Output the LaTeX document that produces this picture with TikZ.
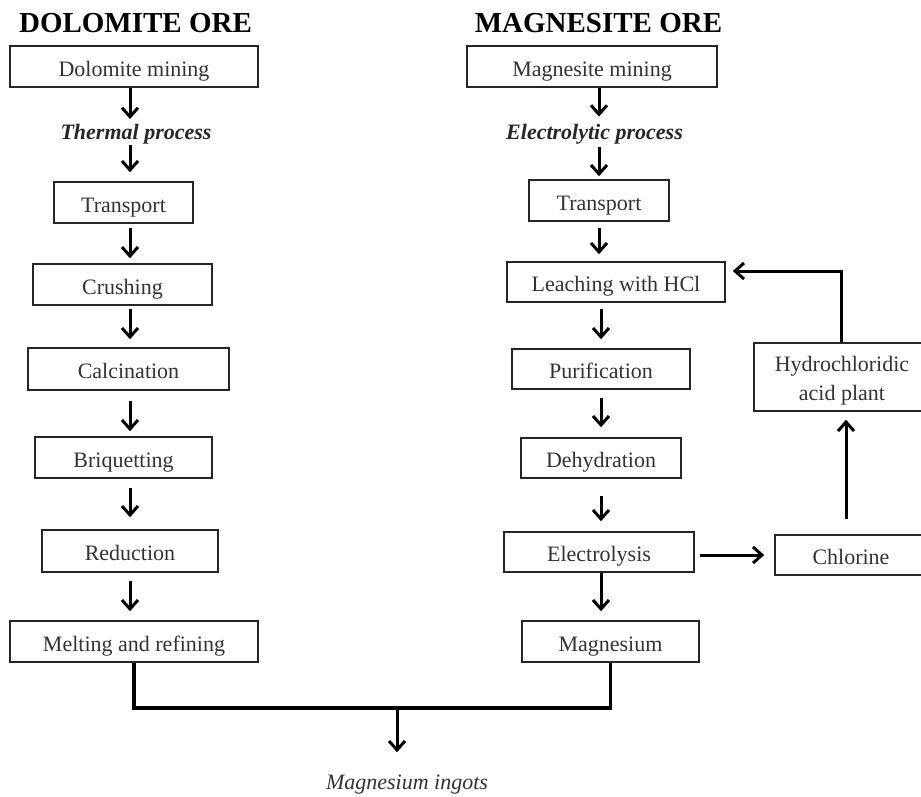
\documentclass[tikz,border=0pt]{standalone}
\usepackage{fontspec}
\setmainfont{Liberation Serif}
\usetikzlibrary{arrows.meta}
\begin{document}
\begin{tikzpicture}[x=1pt,y=-1pt,
  box/.style={draw=black!85, line width=1.5pt, inner sep=0pt, text=black!80,
    font=\fontsize{22}{29}\selectfont, align=center, text height=19.5pt, text depth=0pt},
  box2/.style={draw=black!85, line width=1.5pt, inner sep=0pt, text=black!80,
    font=\fontsize{22}{29}\selectfont, align=center},
  lbl/.style={anchor=base, inner sep=1pt, text=black!85, font=\fontsize{22}{26}\selectfont\bfseries\itshape},
  ttl/.style={anchor=base, inner sep=0pt, font=\fontsize{29}{32}\selectfont\bfseries},
  arr/.style={line width=3pt, -{Straight Barb[length=9pt,width=16pt]}},
  fat/.style={line width=3.2pt}]
\clip (0,0) rectangle (921,796);
% titles
\node[ttl] (t1) at (135.5,32) {DOLOMITE ORE};
\node[ttl] (t2) at (598.5,32) {MAGNESITE ORE};
% left column
\node[box, minimum width=248, minimum height=41] (lmine) at (134,66.5) {Dolomite mining};
\node[lbl] (therm) at (136,139.5) {Thermal process};
\node[box, minimum width=139, minimum height=41] (ltrans) at (123.5,202.5) {Transport};
\node[box, minimum width=179, minimum height=41] (crush) at (122.5,284.5) {Crushing};
\node[box, minimum width=201, minimum height=42] (calc) at (128.5,369) {Calcination};
\node[box, minimum width=177, minimum height=41] (briq) at (123.5,457.5) {Briquetting};
\node[box, minimum width=176, minimum height=42] (reduc) at (130,551) {Reduction};
\node[box, minimum width=248, minimum height=41] (melt) at (134,641.5) {Melting and refining};
% right column
\node[box, minimum width=250, minimum height=41] (rmine) at (592,66.5) {Magnesite mining};
\node[lbl] (elproc) at (594.5,139) {Electrolytic process};
\node[box, minimum width=140, minimum height=41] (rtrans) at (599,200.5) {Transport};
\node[box, minimum width=218, minimum height=40] (leach) at (616,282) {Leaching with HCl};
\node[box, minimum width=178, minimum height=40] (purif) at (601,369) {Purification};
\node[box, minimum width=160, minimum height=40] (dehyd) at (601,458) {Dehydration};
\node[box, minimum width=190, minimum height=40] (electro) at (599,552) {Electrolysis};
\node[box, minimum width=177, minimum height=41] (mag) at (610.5,641.5) {Magnesium};
\node[box, minimum width=152, minimum height=40] (chlor) at (851,555) {Chlorine};
\node[box2, minimum width=176, minimum height=68] (hclp) at (842,377) {\rule{0pt}{22pt}Hydrochloridic\\acid plant};
% bottom
\node[anchor=base, inner sep=1pt, text=black!80, font=\fontsize{22}{26}\selectfont\itshape] (ingots) at (407,789) {Magnesium ingots};
% column axes
\coordinate (cl) at (130,0);
\coordinate (cr) at (599,0);
\coordinate (cr2) at (601,0);
\coordinate (jn) at (397,708);
% left arrows
\draw[arr] (lmine.south -| cl) -- ([yshift=4pt]therm.north -| cl);
\draw[arr] (therm.south -| cl) -- ([yshift=9pt]ltrans.north -| cl);
\draw[arr, shorten <=4pt, shorten >=5pt] (ltrans.south -| cl) -- (crush.north -| cl);
\draw[arr, shorten <=3pt, shorten >=8pt] (crush.south -| cl) -- (calc.north -| cl);
\draw[arr, shorten <=10pt, shorten >=5pt] (calc.south -| cl) -- (briq.north -| cl);
\draw[arr, shorten <=9pt, shorten >=12pt] (briq.south -| cl) -- (reduc.north -| cl);
\draw[arr, shorten <=8pt, shorten >=9pt] (reduc.south -| cl) -- (melt.north -| cl);
% right arrows
\draw[arr] (rmine.south -| cr) -- ([yshift=6pt]elproc.north -| cr);
\draw[arr, shorten <=2pt] (elproc.south -| cr) -- ([yshift=3pt]rtrans.north -| cr);
\draw[arr, shorten <=6pt, shorten >=7pt] (rtrans.south -| cr) -- (leach.north -| cr);
\draw[arr, shorten <=6pt, shorten >=9pt] (leach.south -| cr2) -- (purif.north -| cr2);
\draw[arr, shorten <=8pt, shorten >=10pt] (purif.south -| cr2) -- (dehyd.north -| cr2);
\draw[arr, shorten <=17pt, shorten >=10pt] (dehyd.south -| cr2) -- (electro.north -| cr2);
\draw[arr, shorten >=9pt] (electro.south -| cr2) -- (mag.north -| cr2);
% recycle loop
\draw[arr, shorten <=5pt, shorten >=10pt] ([yshift=-3pt]electro.east) -- (chlor.west);
\draw[arr, shorten <=15pt, shorten >=8pt] ([xshift=-5pt]chlor.north) -- ([xshift=4pt]hclp.south);
\draw[arr, shorten >=7pt] ([xshift=-1pt]hclp.north) |- ([yshift=11pt]leach.east);
% merge
\draw[fat] (melt.south) |- (jn) -| (mag.south);
\draw[arr, shorten >=21pt] (jn) -- (jn |- ingots.north);
\end{tikzpicture}
\end{document}
